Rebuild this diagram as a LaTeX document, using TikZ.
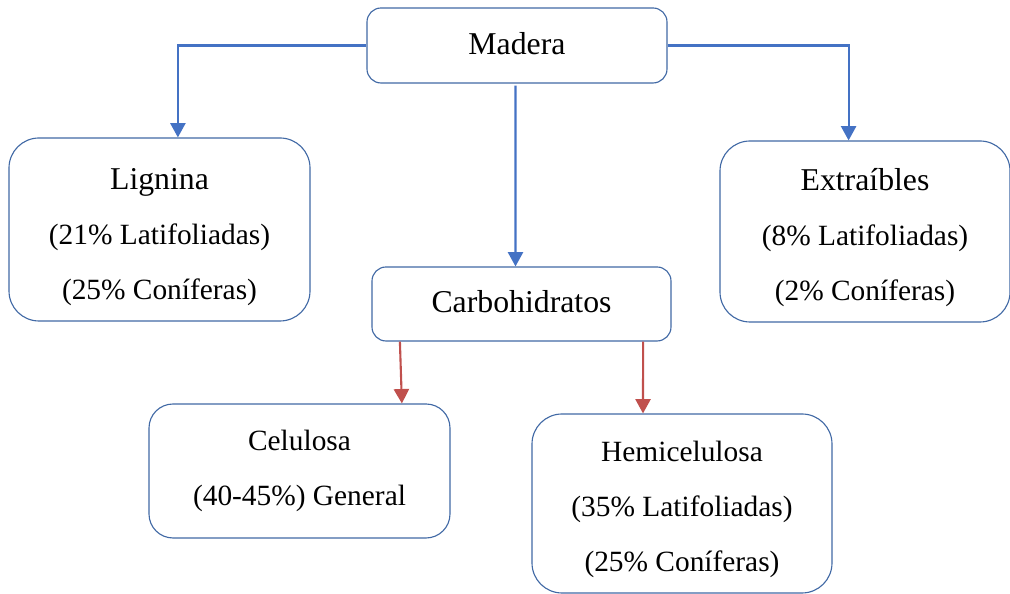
\documentclass[tikz,border=0pt]{standalone}
\usepackage{fontspec}
\setmainfont{Liberation Serif}
\usetikzlibrary{arrows.meta, positioning}
\definecolor{boxline}{RGB}{65, 105, 165}
\definecolor{linkblue}{RGB}{68, 114, 196}
\definecolor{linkred}{RGB}{192, 80, 77}
\newcommand{\titletxt}{\fontsize{22.6}{39}\selectfont}
\newcommand{\bodytxt}{\fontsize{20.9}{39}\selectfont}
\newcommand{\topstrut}[1]{\rule{0pt}{#1}}

\begin{document}
\begin{tikzpicture}[font=\bodytxt,
        box/.style={draw=boxline, line width=0.8pt, align=center, inner sep=0pt},
        bluelink/.style={linkblue, line width=1.5pt, -{Triangle[length=0.36cm, width=0.38cm]}},
        redlink/.style={linkred, line width=1.5pt, -{Triangle[length=0.36cm, width=0.38cm]}}]
        \useasboundingbox (0,0) rectangle (25.25,14.85);
        % boxes
        \node[box, rounded corners=0.35cm, minimum width=7.5cm, minimum height=1.875cm, text depth=0.12cm, font=\titletxt] (madera) at (12.925,13.7125) {Madera};
        \node[box, rounded corners=0.75cm, minimum width=7.525cm, minimum height=4.575cm] (lignina) at (3.9875,9.1125)
            {{\titletxt\topstrut{25.5pt}Lignina}\\(21\% Latifoliadas)\\(25\% Coníferas)};
        \node[box, rounded corners=0.75cm, minimum width=7.25cm, minimum height=4.525cm] (extraibles) at (21.625,9.0625)
            {{\titletxt\topstrut{24.5pt}Extraíbles}\\(8\% Latifoliadas)\\(2\% Coníferas)};
        \node[box, rounded corners=0.35cm, minimum width=7.475cm, minimum height=1.85cm, text depth=0.15cm, font=\titletxt] (carbohidratos) at (13.0375,7.25) {Carbohidratos};
        \node[box, rounded corners=0.6cm, minimum width=7.525cm, minimum height=3.35cm] (celulosa) at (7.4875,3.075)
            {Celulosa\\(40-45\%) General};
        \node[box, rounded corners=0.75cm, minimum width=7.5cm, minimum height=4.475cm] (hemicelulosa) at (17.05,2.2625)
            {\topstrut{23pt}Hemicelulosa\\(35\% Latifoliadas)\\(25\% Coníferas)};
        % links
        \draw[bluelink] (madera.west) -| ([xshift=0.46cm]lignina.north);
        \draw[bluelink] (madera.east) -| ([xshift=-0.41cm]extraibles.north);
        \draw[bluelink] ([xshift=-0.0375cm,yshift=-0.05cm]madera.south) -- ([xshift=-0.15cm]carbohidratos.north);
        \draw[redlink] ([xshift=-3.04cm]carbohidratos.south) -- ([xshift=2.56cm]celulosa.north);
        \draw[redlink] ([xshift=3.04cm]carbohidratos.south) -- ([xshift=-0.975cm]hemicelulosa.north);
    \end{tikzpicture}
\end{document}
